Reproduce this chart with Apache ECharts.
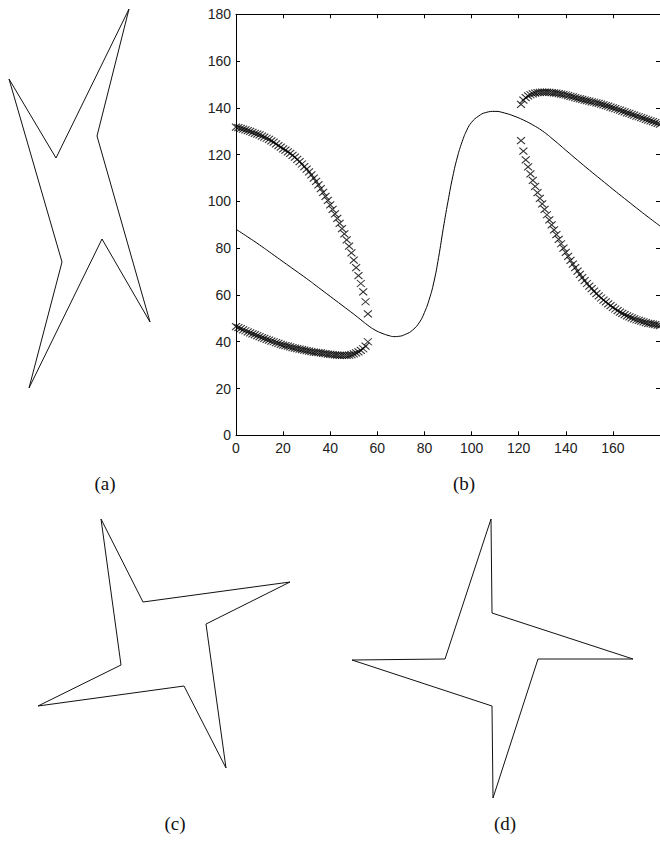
<!DOCTYPE html>
<html>
<head>
<meta charset="utf-8">
<script src="https://cdn.jsdelivr.net/npm/echarts@6/dist/echarts.min.js"></script>
<style>
html,body{margin:0;padding:0;background:#fff;}
#chart{width:660px;height:842px;}
</style>
</head>
<body>
<div id="chart"></div>
<script>
// ---------- panel (b) data ----------
const xTicks = [0, 20, 40, 60, 80, 100, 120, 140, 160, 180];
const yTicks = [0, 20, 40, 60, 80, 100, 120, 140, 160, 180];

const curveAngles = [0,5,10,15,20,25,30,35,40,45,50,53,56,59,62,65,67,69,72,75,78,80,82,84,86,88,90,92,94,96,98,100,103,106,110,114,118,122,126,130,135,140,145,150,155,160,165,170,175,180];
const curveValues = [88.1,84.8,81.4,77.8,74.2,70.6,67.0,63.2,59.4,55.6,51.8,49.4,47.0,45.0,43.6,42.6,42.2,42.3,43.2,45.0,48.5,52.5,58.0,65.5,76.0,88.5,100.0,110.5,119.0,125.5,130.5,133.8,136.5,138.0,138.5,137.8,136.5,134.8,132.7,130.2,126.2,121.9,117.6,113.4,109.3,105.2,101.2,97.2,93.3,89.5];

const leftAngles = [0,1,2,3,4,5,6,7,8,9,10,11,12,13,14,15,16,17,18,19,20,21,22,23,24,25,26,27,28,29,30,31,32,33,34,35,36,37,38,39,40,41,42,43,44,45,46,47,48,49,50,51,52,53,54,55,56];
const upperLeft = [131.8,131.5,131.2,130.9,130.6,130.3,129.9,129.5,129.1,128.8,
  128.4,127.9,127.5,127.0,126.5,125.9,125.3,124.6,123.9,123.2,
  122.5,121.9,121.2,120.5,119.7,118.9,118.0,117.0,116.0,114.9,
  113.8,112.6,111.3,110.0,108.6,107.1,105.5,103.9,102.2,100.4,
  98.5,96.6,94.7,92.7,90.6,88.4,86.1,83.6,80.9,78.0,
  74.9,71.7,68.3,64.9,61.3,57.1,51.9];
const lowerLeft = [46.5,46.0,45.6,45.1,44.7,44.2,43.8,43.4,43.0,42.6,
  42.2,41.8,41.4,41.0,40.7,40.3,40.0,39.6,39.3,38.9,
  38.6,38.3,38.1,37.8,37.5,37.3,37.1,36.8,36.6,36.4,
  36.2,36.0,35.8,35.6,35.5,35.3,35.2,35.0,34.9,34.7,
  34.6,34.5,34.4,34.3,34.2,34.2,34.2,34.2,34.3,34.5,
  34.8,35.2,35.7,36.3,37.0,38.1,40.0];

const rightAngles = [121,122,123,124,125,126,127,128,129,130,131,132,133,134,135,136,137,138,139,140,141,142,143,144,145,146,147,148,149,150,151,152,153,154,155,156,157,158,159,160,161,162,163,164,165,166,167,168,169,170,171,172,173,174,175,176,177,178,179,180];
const upperRight = [141.5,143.3,144.4,145.1,145.6,146.0,146.3,146.5,146.6,146.7,
  146.7,146.7,146.6,146.5,146.4,146.3,146.1,145.9,145.7,145.5,
  145.2,144.9,144.7,144.4,144.1,143.8,143.6,143.3,143.1,142.9,
  142.6,142.4,142.1,141.9,141.6,141.3,141.0,140.7,140.3,140.0,
  139.7,139.3,139.0,138.6,138.3,137.9,137.6,137.2,136.9,136.5,
  136.2,135.8,135.5,135.1,134.8,134.4,134.1,133.7,133.4,133.0];
const lowerRight = [126.0,121.5,117.8,114.8,111.8,109.0,106.4,103.8,101.3,98.9,
  96.6,94.3,92.1,90.0,87.8,85.8,83.8,81.9,80.0,78.2,
  76.5,74.8,73.2,71.7,70.2,68.8,67.4,66.1,64.9,63.8,
  62.7,61.6,60.6,59.6,58.7,57.8,57.0,56.2,55.4,54.7,
  54.0,53.3,52.7,52.1,51.6,51.1,50.6,50.2,49.8,49.4,
  49.1,48.8,48.5,48.2,47.9,47.7,47.5,47.3,47.1,46.9];

// ---------- star outlines (local units, y up, centred on each star) ----------
const shapeA = [[50,190],[18,63],[71,-123],[23,-40],[-50,-189],[-17,-63],[-70,120],[-23,41],[50,190]];
const shapeC = [[-63,125],[-21,42],[126,62],[42,20],[62,-124],[20,-42],[-126,-62],[-43,-21],[-63,125]];
const shapeD = [[-1,140],[0,46],[141,0],[46,0],[1,-139],[0,-47],[-140,-1],[-47,0],[-1,140]];

const panelLabels = ['(a)', '(b)', '(c)', '(d)'];

// ---------- build ----------
const pairs = (xs, ys) => xs.map((x, i) => [x, ys[i]]);
const crossPath = 'path://M0,0L10,10M10,0L0,10';
const tickFont = { fontFamily: 'Liberation Sans, Arial, sans-serif', fontSize: 14, color: '#222' };
const labelStyle = { fontFamily: 'Liberation Serif, Times New Roman, serif', fontSize: 19, fontWeight: 'normal', color: '#111' };

const chart = echarts.init(document.getElementById('chart'), null, { renderer: 'svg' });

const hiddenAxis = (min, max, gi) => ({ type: 'value', gridIndex: gi, min, max, show: false, splitLine: { show: false } });
const crossStyle = { color: '#000', borderColor: '#000', borderWidth: 1.1 };

const option = {
  animation: false,
  backgroundColor: '#ffffff',
  title: [
    { text: panelLabels[0], left: 100, top: 469, textAlign: 'center', textStyle: labelStyle },
    { text: panelLabels[1], left: 459, top: 469, textAlign: 'center', textStyle: labelStyle },
    { text: panelLabels[2], left: 170, top: 809, textAlign: 'center', textStyle: labelStyle },
    { text: panelLabels[3], left: 500, top: 809, textAlign: 'center', textStyle: labelStyle }
  ],
  grid: [
    { left: 236, top: 14.3, width: 425.25, height: 421, show: false },   // (b)
    { left: 0, top: 0, width: 200, height: 400, show: false },           // (a)
    { left: 0, top: 494, width: 320, height: 300, show: false },         // (c)
    { left: 332, top: 499, width: 320, height: 320, show: false }        // (d)
  ],
  xAxis: [
    { type: 'value', gridIndex: 0, min: xTicks[0], max: xTicks[xTicks.length - 1], interval: 20, position: 'bottom',
      axisLine: { show: true, onZero: false, lineStyle: { color: '#000', width: 1 } },
      axisTick: { show: true, inside: true, length: 4, lineStyle: { color: '#000' } },
      axisLabel: Object.assign({ margin: 6, showMaxLabel: false }, tickFont),
      splitLine: { show: false } },
    { type: 'value', gridIndex: 0, min: xTicks[0], max: xTicks[xTicks.length - 1], interval: 20, position: 'top',
      axisLine: { show: true, onZero: false, lineStyle: { color: '#000', width: 1 } },
      axisTick: { show: true, inside: true, length: 4, lineStyle: { color: '#000' } },
      axisLabel: { show: false }, splitLine: { show: false } },
    hiddenAxis(-79, 121, 1),
    hiddenAxis(-164, 156, 2),
    hiddenAxis(-160, 160, 3)
  ],
  yAxis: [
    { type: 'value', gridIndex: 0, min: yTicks[0], max: yTicks[yTicks.length - 1], interval: 20, position: 'left',
      axisLine: { show: true, onZero: false, lineStyle: { color: '#000', width: 1 } },
      axisTick: { show: true, inside: true, length: 4, lineStyle: { color: '#000' } },
      axisLabel: Object.assign({ margin: 5 }, tickFont),
      splitLine: { show: false } },
    { type: 'value', gridIndex: 0, min: yTicks[0], max: yTicks[yTicks.length - 1], interval: 20, position: 'right',
      axisLine: { show: true, onZero: false, lineStyle: { color: '#000', width: 1 } },
      axisTick: { show: true, inside: true, length: 4, lineStyle: { color: '#000' } },
      axisLabel: { show: false }, splitLine: { show: false } },
    hiddenAxis(-201, 199, 1),
    hiddenAxis(-150, 150, 2),
    hiddenAxis(-160, 160, 3)
  ],
  series: [
    { type: 'line', xAxisIndex: 0, yAxisIndex: 0, data: pairs(curveAngles, curveValues), smooth: 0.5,
      symbol: 'none', lineStyle: { color: '#000', width: 1 } },
    { type: 'scatter', xAxisIndex: 0, yAxisIndex: 0, data: pairs(leftAngles, upperLeft), symbol: crossPath, symbolSize: [8, 7], itemStyle: crossStyle },
    { type: 'scatter', xAxisIndex: 0, yAxisIndex: 0, data: pairs(leftAngles, lowerLeft), symbol: crossPath, symbolSize: [8, 7], itemStyle: crossStyle },
    { type: 'scatter', xAxisIndex: 0, yAxisIndex: 0, data: pairs(rightAngles, upperRight), symbol: crossPath, symbolSize: [8, 7], itemStyle: crossStyle },
    { type: 'scatter', xAxisIndex: 0, yAxisIndex: 0, data: pairs(rightAngles, lowerRight), symbol: crossPath, symbolSize: [8, 7], itemStyle: crossStyle },
    { type: 'line', xAxisIndex: 2, yAxisIndex: 2, data: shapeA, symbol: 'none', lineStyle: { color: '#111', width: 1 } },
    { type: 'line', xAxisIndex: 3, yAxisIndex: 3, data: shapeC, symbol: 'none', lineStyle: { color: '#111', width: 1 } },
    { type: 'line', xAxisIndex: 4, yAxisIndex: 4, data: shapeD, symbol: 'none', lineStyle: { color: '#111', width: 1 } }
  ]
};
chart.setOption(option);
</script>
</body>
</html>
